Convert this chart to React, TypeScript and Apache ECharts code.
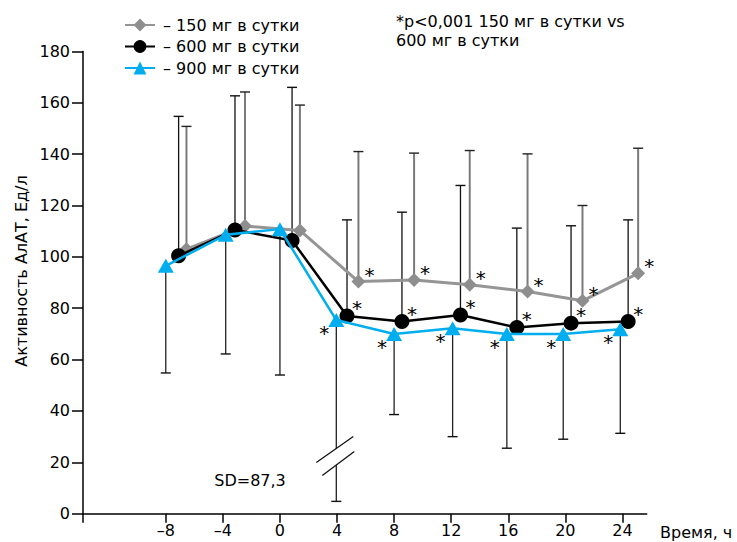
import React, { useEffect, useRef } from 'react';
import * as echarts from 'echarts';

const FONT = 'DejaVu Sans';

// x-axis tick labels (hours)
const xTickValues = [-8, -4, 0, 4, 8, 12, 16, 20, 24];

// 150 mg/day (gray diamonds)
const dose150Name = '150 мг в сутки';
const dose150X = [-6.55, -2.45, 1.4, 5.5, 9.4, 13.3, 17.35, 21.2, 25.1];
const dose150Y = [103, 112, 110.3, 90.4, 91, 89.1, 86.5, 82.9, 93.6];
const dose150Upper = [150.8, 164.2, 159.1, 141, 140.4, 141.4, 140.1, 120, 142.3];

// 600 mg/day (black circles)
const dose600Name = '600 мг в сутки';
const dose600X = [-7.1, -3.15, 0.85, 4.7, 8.55, 12.65, 16.6, 20.4, 24.4];
const dose600Y = [100.4, 110.5, 106.4, 77, 74.8, 77.4, 72.5, 74.2, 74.8];
const dose600Upper = [154.7, 162.7, 166, 114.4, 117.4, 127.8, 111.2, 112.1, 114.4];

// 900 mg/day (blue triangles)
const dose900Name = '900 мг в сутки';
const dose900X = [-8, -3.8, 0, 3.95, 8, 12.1, 15.9, 19.85, 23.85];
const dose900Y = [96.5, 108.6, 110.8, 75.4, 70, 72.2, 70, 70, 71.8];
const dose900Lower = [54.8, 62.2, 54, 4.8, 38.6, 30, 25.5, 29, 31.3];

// significance marks start at this point index
const starFrom = 3;
// axis break on the 900 mg SD bar (index) and its level
const breakIndex = 3;
const breakLevel = 22.3;
const sdText = 'SD=87,3';
const sdPos = [-4.6, 13.1];

const noteLines = ['*p<0,001 150 мг в сутки vs', '600 мг в сутки'];
const yName = 'Активность АлАТ, Ед/л';
const xName = 'Время, ч';

function errRender(color: string, capColor: string, width: number) {
  return (params: any, api: any) => {
    const x = api.value(0);
    const from = api.value(1);
    const to = api.value(2);
    const a = api.coord([x, from]);
    const b = api.coord([x, to]);
    return {
      type: 'group',
      children: [
        { type: 'line', shape: { x1: a[0], y1: a[1], x2: b[0], y2: b[1] }, style: { stroke: color, lineWidth: width } },
        { type: 'line', shape: { x1: b[0] - 5, y1: b[1], x2: b[0] + 5, y2: b[1] }, style: { stroke: capColor, lineWidth: 1.4 } },
      ],
    };
  };
}

export default function App() {
  const ref = useRef<HTMLDivElement>(null);
  useEffect(() => {
    const chart = echarts.init(ref.current!, null, { renderer: 'svg' });
    const mkData = (xs: number[], ys: number[]) =>
      xs.map((x, i) => ({ value: [x, ys[i]], label: { show: i >= starFrom } }));
    const option: any = {
      animation: false,
      grid: { left: 83, right: 90.3, top: 51.4, bottom: 28.3, outerBoundsMode: 'none', containLabel: false },
      textStyle: { fontFamily: FONT },
      legend: {
        left: 119,
        top: 12,
        orient: 'vertical',
        itemWidth: 30,
        itemHeight: 16,
        itemGap: 5.5,
        formatter: '– {name}',
        textStyle: { fontFamily: FONT, fontSize: 16, color: '#000', padding: [0, 0, 0, 3] },
        data: [dose150Name, dose600Name, dose900Name],
      },
      xAxis: {
        type: 'value',
        min: -13.8,
        max: 25.7,
        splitLine: { show: false },
        axisLine: { onZero: false, lineStyle: { color: '#000', width: 1.5 } },
        axisTick: { customValues: [-13.8, ...xTickValues], length: 9, lineStyle: { color: '#000', width: 1.5 } },
        axisLabel: {
          customValues: xTickValues,
          margin: 9,
          fontFamily: FONT,
          fontSize: 16,
          color: '#000',
          formatter: (v: number) => (v < 0 ? '–' + Math.abs(v) : String(v)),
        },
      },
      yAxis: {
        type: 'value',
        min: 0,
        max: 180,
        interval: 20,
        splitLine: { show: false },
        axisLine: { onZero: false, lineStyle: { color: '#000', width: 1.5 } },
        axisTick: { length: 11, lineStyle: { color: '#000', width: 1.5 } },
        axisLabel: { margin: 13, fontFamily: FONT, fontSize: 16, color: '#000' },
      },
      graphic: [
        {
          type: 'text',
          x: 21,
          y: 271,
          rotation: Math.PI / 2,
          style: { text: yName, font: `16px "${FONT}"`, fill: '#000', align: 'center', verticalAlign: 'middle' },
        },
        {
          type: 'text',
          x: 660,
          y: 532,
          style: { text: xName, font: `16px "${FONT}"`, fill: '#000', align: 'left', verticalAlign: 'middle' },
        },
        {
          type: 'text',
          x: 396,
          y: 21.5,
          style: { text: noteLines[0], font: `16px "${FONT}"`, fill: '#000', align: 'left', verticalAlign: 'middle' },
        },
        {
          type: 'text',
          x: 396,
          y: 40.5,
          style: { text: noteLines[1], font: `16px "${FONT}"`, fill: '#000', align: 'left', verticalAlign: 'middle' },
        },
      ],
      series: [
        {
          type: 'custom',
          name: 'err150',
          z: 1,
          renderItem: errRender('#7a7a7a', '#222', 2),
          data: dose150X.map((x, i) => [x, dose150Y[i], dose150Upper[i]]),
          encode: { x: 0, y: [1, 2] },
        },
        {
          type: 'custom',
          name: 'err600',
          z: 1,
          renderItem: errRender('#111', '#111', 1.3),
          data: dose600X.map((x, i) => [x, dose600Y[i], dose600Upper[i]]),
          encode: { x: 0, y: [1, 2] },
        },
        {
          type: 'custom',
          name: 'err900',
          z: 1,
          renderItem: errRender('#222', '#111', 1.3),
          data: dose900X.map((x, i) => [x, dose900Y[i], dose900Lower[i]]),
          encode: { x: 0, y: [1, 2] },
        },
        {
          type: 'custom',
          name: 'break',
          z: 2,
          renderItem: (params: any, api: any) => {
            const c = api.coord([api.value(0), api.value(1)]);
            const cx = c[0];
            const cy = c[1];
            return {
              type: 'group',
              children: [
                {
                  type: 'polygon',
                  shape: { points: [[cx - 20, cy + 6], [cx + 17, cy - 20], [cx + 18, cy - 5], [cx - 14, cy + 19]] },
                  style: { fill: '#fff' },
                },
                { type: 'line', shape: { x1: cx - 20, y1: cy + 6, x2: cx + 17, y2: cy - 20 }, style: { stroke: '#111', lineWidth: 1.3 } },
                { type: 'line', shape: { x1: cx - 14, y1: cy + 19, x2: cx + 18, y2: cy - 5 }, style: { stroke: '#111', lineWidth: 1.3 } },
              ],
            };
          },
          data: [[dose900X[breakIndex], breakLevel]],
          encode: { x: 0, y: 1 },
        },
        {
          type: 'custom',
          name: 'sd',
          z: 2,
          renderItem: (params: any, api: any) => {
            const c = api.coord([api.value(0), api.value(1)]);
            return {
              type: 'text',
              x: c[0],
              y: c[1],
              style: { text: sdText, font: `16px "${FONT}"`, fill: '#000', align: 'left', verticalAlign: 'middle' },
            };
          },
          data: [sdPos],
          encode: { x: 0, y: 1 },
        },
        {
          type: 'line',
          name: dose150Name,
          z: 3,
          data: mkData(dose150X, dose150Y),
          symbol: 'diamond',
          symbolSize: 14,
          color: '#8e8e8e',
          lineStyle: { color: '#959595', width: 3 },
          itemStyle: { color: '#8e8e8e' },
          label: { show: false, formatter: '*', position: 'inside', offset: [11, -7], fontSize: 20, color: '#000', fontFamily: FONT },
        },
        {
          type: 'line',
          name: dose600Name,
          z: 4,
          data: mkData(dose600X, dose600Y),
          symbol: 'circle',
          symbolSize: 15,
          color: '#000',
          lineStyle: { color: '#000', width: 2.5 },
          itemStyle: { color: '#000' },
          label: { show: false, formatter: '*', position: 'inside', offset: [10, -8], fontSize: 20, color: '#000', fontFamily: FONT },
        },
        {
          type: 'line',
          name: dose900Name,
          z: 5,
          data: mkData(dose900X, dose900Y),
          symbol: 'triangle',
          symbolSize: [16, 14],
          color: '#00aeef',
          lineStyle: { color: '#00aeef', width: 2.5 },
          itemStyle: { color: '#00aeef' },
          label: { show: false, formatter: '*', position: 'inside', offset: [-12, 13], fontSize: 20, color: '#000', fontFamily: FONT },
        },
      ],
    };
    chart.setOption(option);
    return () => chart.dispose();
  }, []);
  return <div ref={ref} style={{ position: 'absolute', left: 0, top: 0, width: 737, height: 542 }} />;
}
